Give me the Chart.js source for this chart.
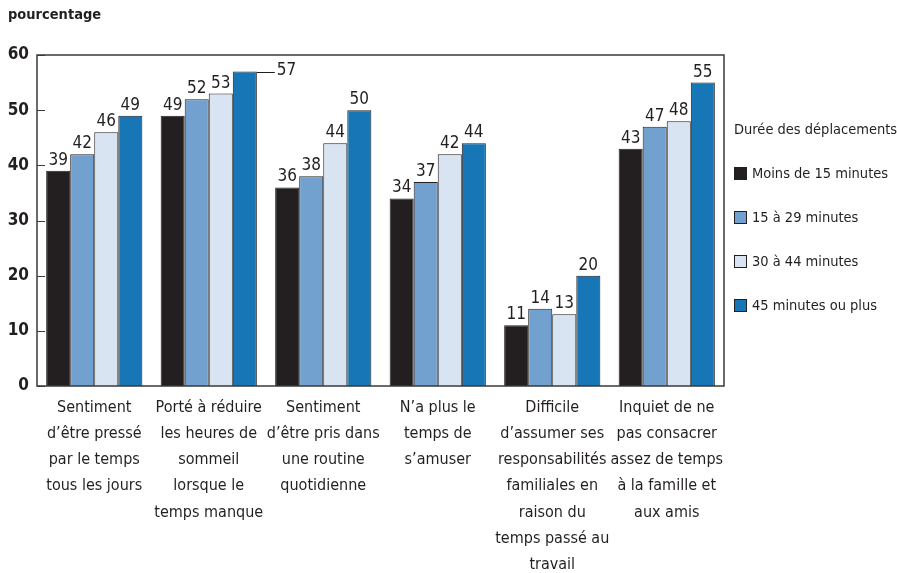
<!DOCTYPE html>
<html lang="fr">
<head>
<meta charset="utf-8">
<script src="https://cdn.jsdelivr.net/npm/chart.js@4/dist/chart.umd.min.js"></script>
<style>
  html, body { margin: 0; padding: 0; background: #ffffff; }
  #wrap { position: relative; width: 897px; height: 573px; }
</style>
</head>
<body>
<div id="wrap"><canvas id="c" width="897" height="573"></canvas></div>
<script>
// Catégories (une ligne de texte par élément)
const categories = [
  ["Sentiment", "d\u2019être pressé", "par le temps", "tous les jours"],
  ["Porté à réduire", "les heures de", "sommeil", "lorsque le", "temps manque"],
  ["Sentiment", "d\u2019être pris dans", "une routine", "quotidienne"],
  ["N\u2019a plus le", "temps de", "s\u2019amuser"],
  ["Difficile", "d\u2019assumer ses", "responsabilités", "familiales en", "raison du", "temps passé au", "travail"],
  ["Inquiet de ne", "pas consacrer", "assez de temps", "à la famille et", "aux amis"]
];

// Pourcentages selon la durée des déplacements
const moins15 = [39, 49, 36, 34, 11, 43];
const de15a29 = [42, 52, 38, 37, 14, 47];
const de30a44 = [46, 53, 44, 42, 13, 48];
const plus45 = [49, 57, 50, 44, 20, 55];

const seriesLabels = ["Moins de 15 minutes", "15 à 29 minutes", "30 à 44 minutes", "45 minutes ou plus"];
const yTicks = [0, 10, 20, 30, 40, 50, 60];
const legendTitle = "Durée des déplacements";
const unitLabel = "pourcentage";

const colors = ["#231f20", "#72a0cf", "#d9e4f2", "#1676b6"];
const ink = "#231f20";
const FONT = "'DejaVu Sans Condensed', sans-serif";

// Boîte du graphique, graduations internes, titre de l'unité et légende
const framePlugin = {
  id: "frame",
  afterDatasetsDraw(chart) {
    const { ctx, chartArea: a, scales } = chart;
    ctx.save();
    ctx.strokeStyle = "#3a3a3a";
    ctx.lineWidth = 1.5;
    ctx.strokeRect(a.left, a.top, a.right - a.left, a.bottom - a.top);
    ctx.lineWidth = 1;
    scales.y.ticks.forEach(t => {
      const y = Math.round(scales.y.getPixelForValue(t.value)) + 0.5;
      ctx.beginPath();
      ctx.moveTo(a.left, y);
      ctx.lineTo(a.left + 8, y);
      ctx.stroke();
    });

    // étiquettes de valeur
    ctx.fillStyle = ink;
    ctx.font = "17px " + FONT;
    chart.data.datasets.forEach((ds, di) => {
      const meta = chart.getDatasetMeta(di);
      meta.data.forEach((bar, i) => {
        const v = ds.data[i];
        const p = bar.getProps(["x", "y", "width"], true);
        if (di === 3 && i === 1) {
          // valeur placée à droite avec un trait de rappel
          const x0 = p.x + p.width / 2;
          ctx.strokeStyle = ink;
          ctx.beginPath();
          ctx.moveTo(x0, Math.round(p.y) + 0.5);
          ctx.lineTo(x0 + 18, Math.round(p.y) + 0.5);
          ctx.stroke();
          ctx.textAlign = "left";
          ctx.textBaseline = "middle";
          ctx.fillText(String(v), x0 + 20, p.y - 1);
        } else {
          ctx.textAlign = "center";
          ctx.textBaseline = "bottom";
          ctx.fillText(String(v), p.x, p.y - 2);
        }
      });
    });

    // titre de l'unité
    ctx.textAlign = "left";
    ctx.textBaseline = "middle";
    ctx.font = "bold 14.5px " + FONT;
    ctx.fillText(unitLabel, 8, 15);

    // légende
    const lx = a.right + 10;
    ctx.font = "14.5px " + FONT;
    ctx.fillText(legendTitle, lx, 130);
    seriesLabels.forEach((lab, k) => {
      const cy = 174 + k * 44;
      ctx.fillStyle = colors[k];
      ctx.fillRect(lx, cy - 7, 13, 13);
      ctx.strokeStyle = ink;
      ctx.lineWidth = 1;
      ctx.strokeRect(lx + 0.5, cy - 6.5, 12, 12);
      ctx.fillStyle = ink;
      ctx.fillText(lab, lx + 18, cy);
    });
    ctx.restore();
  }
};

const datasets = [moins15, de15a29, de30a44, plus45].map((d, k) => ({
  label: seriesLabels[k],
  data: d,
  backgroundColor: colors[k],
  borderColor: ink,
  borderWidth: 1,
  categoryPercentage: 0.84,
  barPercentage: 1.0
}));

new Chart(document.getElementById("c"), {
  type: "bar",
  data: { labels: categories, datasets },
  options: {
    responsive: false,
    animation: false,
    layout: { padding: { top: 55, right: 173, left: 0, bottom: 0 } },
    plugins: { legend: { display: false }, tooltip: { enabled: false } },
    scales: {
      x: {
        grid: { display: false, drawTicks: false },
        border: { display: false },
        ticks: {
          color: ink,
          padding: 9,
          maxRotation: 0,
          autoSkip: false,
          font: { family: FONT, size: 16, lineHeight: 1.63 }
        },
        afterFit(scale) { scale.height = 187; }
      },
      y: {
        min: 0,
        max: 60,
        afterBuildTicks(scale) { scale.ticks = yTicks.map(v => ({ value: v })); },
        grid: { display: false, drawTicks: false },
        border: { display: false },
        ticks: {
          color: ink,
          padding: 8,
          font: { family: FONT, size: 17, weight: "bold" }
        },
        afterFit(scale) { scale.width = 37; }
      }
    }
  },
  plugins: [framePlugin]
});
</script>
</body>
</html>
